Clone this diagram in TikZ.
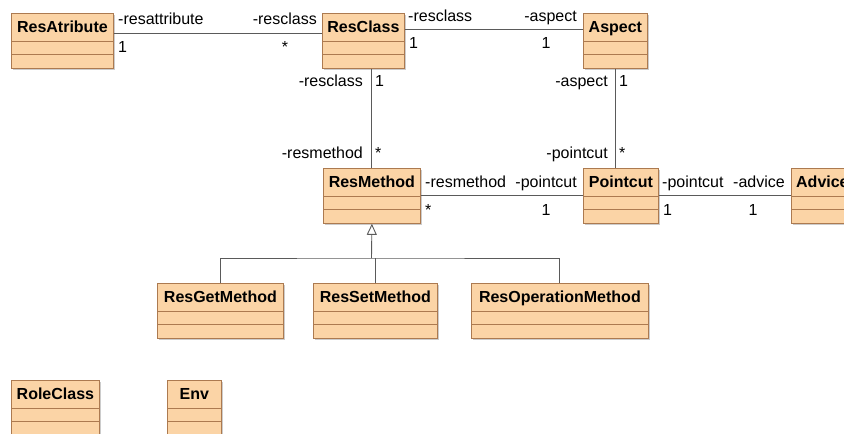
\documentclass[tikz,border=0pt]{standalone}
\usepackage{fontspec}
\setmainfont{Liberation Sans}
\usetikzlibrary{shadows,arrows.meta}
\definecolor{classfill}{RGB}{251,212,166}
\definecolor{classline}{RGB}{172,122,80}
\definecolor{assocline}{RGB}{90,90,90}
\tikzset{umlclass/.style={draw=classline, fill=classfill, line width=0.8pt, anchor=north west, inner sep=0pt,
    minimum width=#1, text height=19pt, text depth=36pt, font=\fontsize{16}{19}\selectfont\bfseries,
    drop shadow={shadow xshift=2pt, shadow yshift=-2pt, fill=black!40, opacity=.5},
    path picture={\draw[classline, line width=0.8pt] ([yshift=-28pt]path picture bounding box.north west)--([yshift=-28pt]path picture bounding box.north east);
                  \draw[classline, line width=0.8pt] ([yshift=-41pt]path picture bounding box.north west)--([yshift=-41pt]path picture bounding box.north east);}},
  role/.style={inner sep=0pt, font=\fontsize{16}{19}\selectfont},
  assoc/.style={draw=assocline, line width=0.9pt}}

\begin{document}
\begin{tikzpicture}[x=1pt,y=-1pt,>=latex]
\useasboundingbox (0,0) rectangle (844,434);
\clip (0,0) rectangle (844,434);

%classes
\node[umlclass=102pt] (ResAtribute)        at (11,13)   {ResAtribute};
\node[umlclass=82pt]  (ResClass)           at (322,13)  {ResClass};
\node[umlclass=64pt]  (Aspect)             at (583,13)  {Aspect};
\node[umlclass=97pt]  (ResMethod)          at (323,168) {ResMethod};
\node[umlclass=75pt]  (Pointcut)           at (583,168) {Pointcut};
\node[umlclass=62pt]  (Advice)             at (791,168) {Advice};
\node[umlclass=126pt] (ResGetMethod)       at (157,283) {ResGetMethod};
\node[umlclass=124pt] (ResSetMethod)       at (313,283) {ResSetMethod};
\node[umlclass=177pt] (ResOperationMethod) at (471,283) {ResOperationMethod};
\node[umlclass=88pt]  (RoleClass)          at (11,380)  {RoleClass};
\node[umlclass=54pt]  (Env)                at (167,380) {Env};

%associations
\draw [assoc] ([yshift=7.5pt]ResAtribute.east)--([yshift=7.5pt]ResClass.west);	%ResAtribute--ResClass
\draw [assoc] ([yshift=11.5pt]ResClass.east)--([yshift=11.5pt]Aspect.west);		%ResClass--Aspect
\draw [assoc] (ResClass.south -| ResMethod.north)--(ResMethod.north);			%ResClass--ResMethod
\draw [assoc] (Aspect.south)--(Aspect.south |- Pointcut.north);				%Aspect--Pointcut
\draw [assoc] (ResMethod.east)--(Pointcut.west);								%ResMethod--Pointcut
\draw [assoc] (Pointcut.east)--(Advice.west);									%Pointcut--Advice

%generalization
\coordinate (bus) at (371.5,258);
\draw [assoc] (ResGetMethod.north) |- (bus) -| (ResOperationMethod.north);
\draw [assoc] (ResSetMethod.north)--(ResSetMethod.north |- bus);
\draw [assoc, -{Triangle[open, length=11pt, width=10pt]}] (bus)--(ResMethod.south);

%role names and multiplicities
\node[role, anchor=base west] (r1)  at (118,24)  {-resattribute};
\node[role, anchor=base west] (m1)  at (118,52)  {1};
\node[role, anchor=base east] (r2)  at (317,24)  {-resclass};
\node[role, anchor=base]      (m2)  at (285,52)  {*};
%
\node[role, anchor=base west] (r3)  at (408,21)  {-resclass};
\node[role, anchor=base west] (m3)  at (409,48)  {1};
\node[role, anchor=base east] (r4)  at (577,21)  {-aspect};
\node[role, anchor=base]      (m4)  at (546,48)  {1};
%
\node[role, anchor=base east] (r5)  at (363,86)  {-resclass};
\node[role, anchor=base west] (m5)  at (375,86)  {1};
\node[role, anchor=base east] (r6)  at (363,158) {-resmethod};
\node[role, anchor=base west] (m6)  at (375,158) {*};
%
\node[role, anchor=base east] (r7)  at (608,86)  {-aspect};
\node[role, anchor=base west] (m7)  at (619,86)  {1};
\node[role, anchor=base east] (r8)  at (608,158) {-pointcut};
\node[role, anchor=base west] (m8)  at (619,158) {*};
%
\node[role, anchor=base west] (r9)  at (425,187) {-resmethod};
\node[role, anchor=base west] (m9)  at (425,215) {*};
\node[role, anchor=base east] (r10) at (577,187) {-pointcut};
\node[role, anchor=base]      (m10) at (546,215) {1};
%
\node[role, anchor=base west] (r11) at (662,187) {-pointcut};
\node[role, anchor=base west] (m11) at (663,215) {1};
\node[role, anchor=base east] (r12) at (785,187) {-advice};
\node[role, anchor=base]      (m12) at (753,215) {1};
\end{tikzpicture}
\end{document}
